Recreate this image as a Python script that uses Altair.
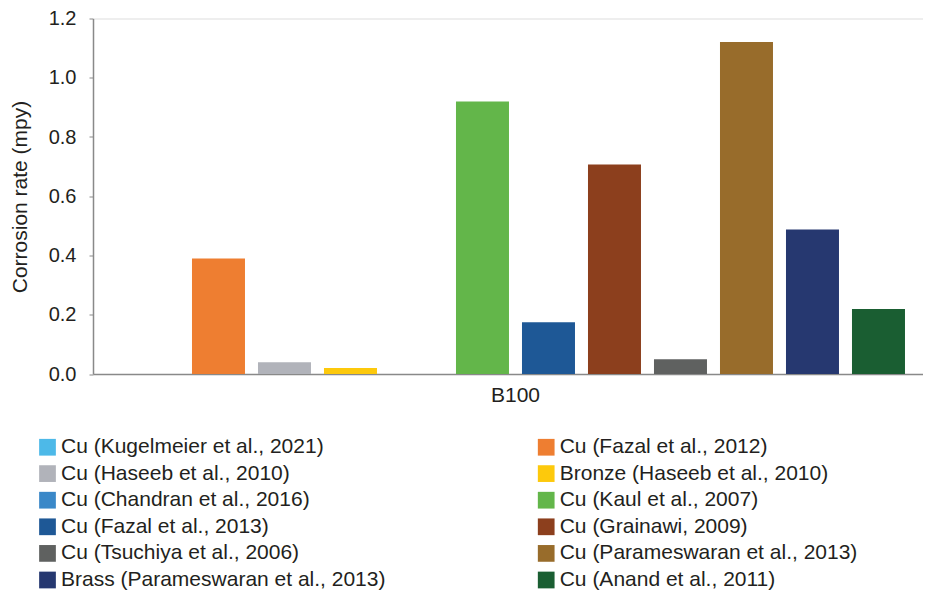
import altair as alt
import pandas as pd

series = [
    "Cu (Kugelmeier et al., 2021)",
    "Cu (Fazal et al., 2012)",
    "Cu (Haseeb et al., 2010)",
    "Bronze (Haseeb et al., 2010)",
    "Cu (Chandran et al., 2016)",
    "Cu (Kaul et al., 2007)",
    "Cu (Fazal et al., 2013)",
    "Cu (Grainawi, 2009)",
    "Cu (Tsuchiya et al., 2006)",
    "Cu (Parameswaran et al., 2013)",
    "Brass (Parameswaran et al., 2013)",
    "Cu (Anand et al., 2011)",
]
values = [0.0, 0.39, 0.04, 0.02, 0.0, 0.92, 0.175, 0.707, 0.05, 1.121, 0.488, 0.219]
colors = [
    "#4DB9E8", "#EE7E31", "#B1B3BA", "#FDC90C", "#3A88C8", "#63B64A",
    "#1E5896", "#8C3F1D", "#5F6160", "#986C2B", "#263870", "#1A5E32",
]
category = ["B100"] * len(series)
y_ticks = [0.0, 0.2, 0.4, 0.6, 0.8, 1.0, 1.2]

df = pd.DataFrame({"fuel": category, "series": series, "rate": values})

# legend fills column by column: put even-indexed entries in the left column
legend_order = series[0::2] + series[1::2]
legend_colors = colors[0::2] + colors[1::2]

FONT = "Liberation Sans"
TXT = "#231F20"
AX = "#898989"

chart = (
    alt.Chart(df)
    .mark_bar()
    .encode(
        x=alt.X(
            "fuel:N",
            title=None,
            scale=alt.Scale(paddingInner=0, paddingOuter=0.02399, align=0.697),
            axis=alt.Axis(
                labelAngle=0, ticks=False, labelPadding=10, labelFontSize=21,
                labelFont=FONT, labelColor=TXT, domainColor=AX, domainWidth=1.5,
            ),
        ),
        xOffset=alt.XOffset(
            "series:N", sort=series,
            scale=alt.Scale(paddingInner=0.197, paddingOuter=0.0985),
        ),
        y=alt.Y(
            "rate:Q",
            title="Corrosion rate (mpy)",
            scale=alt.Scale(domain=[0, 1.2], nice=False),
            axis=alt.Axis(
                values=y_ticks, format=".1f", grid=False, tickSize=4,
                labelPadding=13, labelFontSize=20, labelFont=FONT, labelColor=TXT,
                domainColor=AX, tickColor=AX, domainWidth=1.5,
                titleFont=FONT, titleFontSize=21, titleFontWeight="normal",
                titleColor=TXT, titleX=-73, titleY=178, titleBaseline="middle",
                titleAngle=270,
            ),
        ),
        color=alt.Color(
            "series:N",
            sort=legend_order,
            scale=alt.Scale(domain=legend_order, range=legend_colors),
            title=None,
            legend=alt.Legend(
                orient="none", legendX=-56, legendY=418, columns=2,
                symbolType="square", symbolSize=280, symbolStrokeWidth=0,
                labelFontSize=21, labelFont=FONT, labelColor=TXT,
                labelOffset=3, rowPadding=4.6, columnPadding=149.7,
                labelLimit=600, padding=0,
            ),
        ),
    )
    .properties(
        width=830,
        height=355.5,
        autosize=alt.AutoSizeParams(type="none"),
        padding={"left": 85, "top": 10.5, "right": 0, "bottom": 220},
    )
    .configure_view(stroke=None)
    .configure(background="white")
)

chart.save("out.html", embed_options={"renderer": "svg", "actions": False})
